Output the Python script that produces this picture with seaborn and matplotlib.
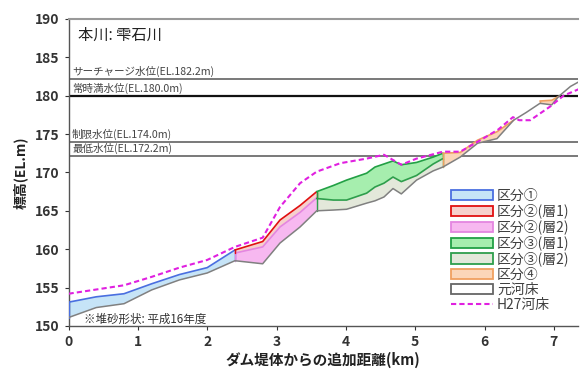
import numpy as np
import pandas as pd
import matplotlib
matplotlib.use("Agg")
import matplotlib.pyplot as plt
import seaborn as sns
from matplotlib.patches import Patch
from matplotlib.lines import Line2D

# Profile data (km, EL.m)
bed_x = [0, 0.4, 0.8, 1.2, 1.6, 2.0, 2.4, 2.8, 3.05, 3.34, 3.58, 3.82, 4.01, 4.3, 4.42, 4.55,
         4.68, 4.8, 5.02, 5.26, 5.4, 5.65, 5.9, 6.18, 6.42, 6.6, 6.8, 6.97, 7.07, 7.24, 7.4]
bed_y = [151.1, 152.4, 152.9, 154.7, 156.0, 156.9, 158.5, 158.1, 160.8, 162.9, 165.0, 165.1, 165.2,
         166.0, 166.3, 166.8, 167.9, 167.2, 169.0, 170.2, 170.7, 172.0, 173.8, 174.4, 176.8,
         177.8, 179.0, 178.8, 179.9, 181.2, 182.0]

h27_x = [0, 0.8, 1.2, 1.6, 2.0, 2.4, 2.8, 3.05, 3.34, 3.58, 3.92, 4.3, 4.55, 4.8, 5.02, 5.4,
         5.65, 5.94, 6.2, 6.41, 6.5, 6.66, 6.95, 7.14, 7.4]
h27_y = [154.2, 155.3, 156.4, 157.6, 158.6, 160.3, 161.5, 165.5, 168.6, 170.1, 171.2, 171.8,
         172.3, 171.0, 171.8, 172.7, 172.7, 174.2, 175.6, 177.2, 176.8, 176.8, 178.6, 180.0, 181.0]

# 区分①
k1_x = [0, 0.4, 0.8, 1.2, 1.6, 2.0, 2.4]
k1_bot = [151.1, 152.4, 152.9, 154.7, 156.0, 156.9, 158.5]
k1_top = [153.1, 153.8, 154.2, 155.5, 156.7, 157.6, 159.9]

# 区分② (層2 lower, 層1 upper)
k2_x = [2.4, 2.8, 3.05, 3.34, 3.58]
k2_bot = [158.5, 158.1, 160.8, 162.9, 165.0]
k2_mid = [159.5, 160.3, 162.9, 164.8, 166.7]
k2_top = [159.9, 161.0, 163.8, 165.7, 167.5]

# 区分③ (層2 lower, 層1 upper)
k3_x = [3.58, 3.82, 4.01, 4.3, 4.42, 4.55, 4.68, 4.8, 5.02, 5.26, 5.4]
k3_bot = [165.0, 165.1, 165.2, 166.0, 166.3, 166.8, 167.9, 167.2, 169.0, 170.2, 170.7]
k3_mid = [166.6, 166.4, 166.4, 167.3, 168.1, 168.6, 169.4, 168.8, 169.6, 171.1, 171.8]
k3_top = [167.5, 168.3, 169.0, 169.9, 170.7, 171.1, 171.5, 171.0, 171.3, 172.0, 172.5]

# 区分④
k4a_x = [5.4, 5.65, 5.9, 6.18, 6.42]
k4a_bot = [170.7, 172.0, 173.8, 174.4, 176.8]
k4a_top = [172.5, 172.6, 174.2, 175.3, 176.8]
k4b_x = [6.8, 6.97, 7.07]
k4b_bot = [179.0, 178.8, 179.9]
k4b_top = [179.3, 179.4, 179.9]

levels = [182.2, 180.0, 174.0, 172.2]
level_names = ["サーチャージ水位", "常時満水位", "制限水位", "最低水位"]

sns.set_style("ticks")
plt.rcParams["font.family"] = ["Noto Sans CJK JP", "DejaVu Sans"]

fig = plt.figure(figsize=(5.81, 3.70), dpi=100)
ax = fig.add_axes([0.118, 0.119, 0.877, 0.830])

styles = {
    "k1": ("#c6e4f7", "#4a6fe0"),
    "k2a": ("#f6d0cc", "#e01010"),
    "k2b": ("#f7b8f0", "#e486e0"),
    "k3a": ("#a6eeae", "#22a045"),
    "k3b": ("#e3e8da", "#2e9e4c"),
    "k4": ("#fbd6b8", "#f0a060"),
    "bed": ("white", "#888888"),
}

def layer(x, lo, hi, key):
    fc, ec = styles[key]
    ax.fill_between(x, lo, hi, facecolor=fc, edgecolor="none", zorder=2)
    ax.plot(x, hi, color=ec, lw=1.2, zorder=3)
    ax.plot([x[0], x[0]], [lo[0], hi[0]], color=ec, lw=1.0, zorder=3)
    ax.plot([x[-1], x[-1]], [lo[-1], hi[-1]], color=ec, lw=1.0, zorder=3)

layer(k1_x, k1_bot, k1_top, "k1")
layer(k2_x, k2_bot, k2_mid, "k2b")
layer(k2_x, k2_mid, k2_top, "k2a")
layer(k3_x, k3_bot, k3_mid, "k3b")
layer(k3_x, k3_mid, k3_top, "k3a")
layer(k4a_x, k4a_bot, k4a_top, "k4")
layer(k4b_x, k4b_bot, k4b_top, "k4")

bed_df = pd.DataFrame({"x": bed_x, "y": bed_y})
h27_df = pd.DataFrame({"x": h27_x, "y": h27_y})
sns.lineplot(data=bed_df, x="x", y="y", color="#808080", lw=1.1, sort=False, ax=ax, zorder=4)
sns.lineplot(data=h27_df, x="x", y="y", color="#e020e0", lw=1.5, ls=(0, (2.5, 1.5)),
             sort=False, ax=ax, zorder=5)

for lv, name in zip(levels, level_names):
    ax.axhline(lv, color="#111111" if lv == 180.0 else "#555555",
               lw=1.6 if lv == 180.0 else 1.1, zorder=1)
    ax.text(0.05, lv + 0.25, f"{name}(EL.{lv:.1f}m)", fontsize=7.6, color="#444444",
            va="bottom", ha="left")

ax.text(0.13, 187.8, "本川: 雫石川", fontsize=11, color="#222222", va="center")
ax.text(0.22, 150.9, "※堆砂形状: 平成16年度", fontsize=8.3, color="#333333", va="center")

ax.set_xlim(0, 7.35)
ax.set_ylim(150, 190)
ax.set_xticks(range(0, 8))
ax.set_yticks(range(150, 191, 5))
ax.tick_params(labelsize=10, colors="#333333", length=3)
for lab in ax.get_xticklabels() + ax.get_yticklabels():
    lab.set_fontweight("bold")
ax.set_xlabel("ダム堤体からの追加距離(km)", fontsize=10.5, fontweight="bold", color="#222222", labelpad=2)
ax.set_ylabel("標高(EL.m)", fontsize=10, fontweight="bold", color="#222222", labelpad=5)

ax.spines["right"].set_visible(False)
ax.spines["top"].set_color("#999999")
ax.spines["top"].set_linewidth(1.5)
for s in ["left", "bottom"]:
    ax.spines[s].set_color("#555555")
    ax.spines[s].set_linewidth(1.0)

handles = [
    Patch(facecolor=styles["k1"][0], edgecolor=styles["k1"][1], lw=1.3),
    Patch(facecolor=styles["k2a"][0], edgecolor=styles["k2a"][1], lw=1.3),
    Patch(facecolor=styles["k2b"][0], edgecolor=styles["k2b"][1], lw=1.3),
    Patch(facecolor=styles["k3a"][0], edgecolor=styles["k3a"][1], lw=1.3),
    Patch(facecolor=styles["k3b"][0], edgecolor=styles["k3b"][1], lw=1.3),
    Patch(facecolor=styles["k4"][0], edgecolor=styles["k4"][1], lw=1.3),
    Patch(facecolor="white", edgecolor="#666666", lw=1.3),
    Line2D([0], [0], color="#e020e0", lw=1.5, ls=(0, (2.5, 1.5))),
]
labels = ["区分①", "区分②(層1)", "区分②(層2)", "区分③(層1)", "区分③(層2)", "区分④", "元河床", "H27河床"]
leg = ax.legend(handles, labels, loc="upper left", bbox_to_anchor=(0.74, 0.465), frameon=False,
                fontsize=10, labelspacing=0.08, handlelength=3.0, handleheight=0.75,
                handletextpad=0.3, borderaxespad=0)
for t in leg.get_texts():
    t.set_color("#404040")

fig.savefig("out.png", dpi=100)
